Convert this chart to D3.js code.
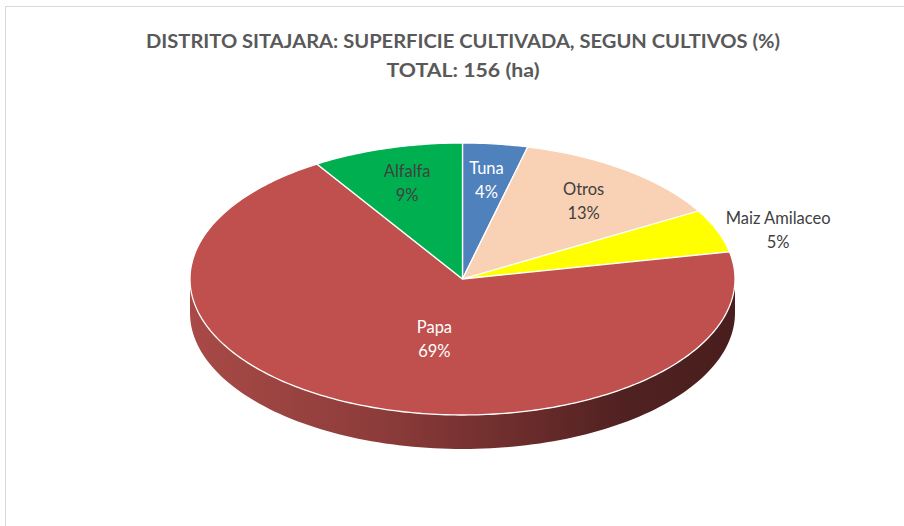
<!DOCTYPE html>
<html>
<head>
<meta charset="utf-8">
<script src="https://cdn.jsdelivr.net/npm/d3@7/dist/d3.min.js"></script>
<style>
  html, body { margin: 0; padding: 0; background: #ffffff; }
  svg { display: block; }
</style>
</head>
<body>
<svg id="chart" width="904" height="526"></svg>
<script>
// ---- Data ----
const titleLines = ["DISTRITO SITAJARA: SUPERFICIE CULTIVADA, SEGUN CULTIVOS (%)", "TOTAL: 156 (ha)"];
const categories = ["Tuna", "Otros", "Maiz Amilaceo", "Papa", "Alfalfa"];
const hectares   = [6, 20, 8, 108, 14];
const percentLabels = ["4%", "13%", "5%", "69%", "9%"];
const colors     = ["#4F81BD", "#F9D1B4", "#FFFF00", "#C0504D", "#00B050"];
const labelColors = ["#ffffff", "#404040", "#404040", "#ffffff", "#404040"];

// ---- Layout ----
const W = 904, H = 526;
const cx = 462.5, cy = 279, rx = 272.5, ry = 136, depth = 34;

const svg = d3.select("#chart");

// border
svg.append("rect")
  .attr("x", 5.5).attr("y", 6.5)
  .attr("width", W + 10).attr("height", H + 10)
  .attr("fill", "#ffffff")
  .attr("stroke", "#d9d9d9").attr("stroke-width", 1);

// title
const title = svg.append("g")
  .attr("font-family", "Lato, 'Open Sans', sans-serif")
  .attr("font-weight", "bold")
  .attr("font-size", 18)
  .attr("fill", "#595959")
  .attr("text-anchor", "middle");
const titleWidths = [634, 153];
titleLines.forEach((t, i) => {
  title.append("text")
    .attr("x", 463).attr("y", 48 + i * 29)
    .attr("textLength", titleWidths[i])
    .attr("lengthAdjust", "spacingAndGlyphs")
    .text(t);
});

// pie layout
const pie = d3.pie().sort(null).value(d => d)
  .startAngle(0).endAngle(2 * Math.PI);
const arcs = pie(hectares);

// scales mapping unit circle to the ellipse
const xs = d3.scaleLinear().domain([-1, 1]).range([cx - rx, cx + rx]);
const ys = d3.scaleLinear().domain([-1, 1]).range([cy - ry, cy + ry]);
const px = a => xs(Math.sin(a));
const py = a => ys(-Math.cos(a));

// gradient for side
const defs = svg.append("defs");
const grad = defs.append("linearGradient")
  .attr("id", "sideGrad")
  .attr("gradientUnits", "userSpaceOnUse")
  .attr("x1", cx - rx).attr("x2", cx + rx).attr("y1", 0).attr("y2", 0);
[[0, "#A84A47"], [0.35, "#8C3C3A"], [0.6, "#6C2D2C"], [0.8, "#502121"], [1, "#4A1E1E"]]
  .forEach(([o, c]) => grad.append("stop").attr("offset", o).attr("stop-color", c));

// side walls (front half only: angles pi/2 .. 3pi/2)
const line = d3.line().x(d => d[0]).y(d => d[1]);
arcs.forEach((d, i) => {
  const a0 = Math.max(d.startAngle, Math.PI / 2);
  const a1 = Math.min(d.endAngle, 3 * Math.PI / 2);
  if (a1 <= a0) return;
  const n = 120;
  const angles = d3.range(n + 1).map(k => a0 + (a1 - a0) * k / n);
  const top = angles.map(a => [px(a), py(a)]);
  const bottom = angles.slice().reverse().map(a => [px(a), py(a) + depth]);
  const pts = top.concat(bottom);
  svg.append("path")
    .attr("d", line(pts) + "Z")
    .attr("fill", i === 3 ? "url(#sideGrad)" : d3.color(colors[i]).darker(1.2));
});

// top faces
arcs.forEach((d, i) => {
  const n = Math.max(8, Math.ceil((d.endAngle - d.startAngle) * 60));
  const angles = d3.range(n + 1).map(k => d.startAngle + (d.endAngle - d.startAngle) * k / n);
  const pts = [[cx, cy]].concat(angles.map(a => [px(a), py(a)]));
  svg.append("path")
    .attr("d", line(pts) + "Z")
    .attr("fill", colors[i])
    .attr("stroke", "#ffffff")
    .attr("stroke-width", 1.3)
    .attr("stroke-linejoin", "round");
});

// labels
const labelR = [0.73, 0.74, 1.18, 0.45, 0.73];
const labelShift = [[0, 0], [0, 2], [15, 8], [20, 4], [0, -1]];
const lg = svg.append("g")
  .attr("font-family", "Lato, 'Open Sans', sans-serif")
  .attr("font-size", 16.5)
  .attr("text-anchor", "middle");
arcs.forEach((d, i) => {
  const mid = (d.startAngle + d.endAngle) / 2;
  const x = xs(Math.sin(mid) * labelR[i]) + labelShift[i][0];
  const y = ys(-Math.cos(mid) * labelR[i]) + labelShift[i][1];
  const t = lg.append("text").attr("fill", labelColors[i]);
  t.append("tspan").attr("x", x).attr("y", y - 6).text(categories[i]);
  t.append("tspan").attr("x", x).attr("y", y + 18).text(percentLabels[i]);
});
</script>
</body>
</html>
